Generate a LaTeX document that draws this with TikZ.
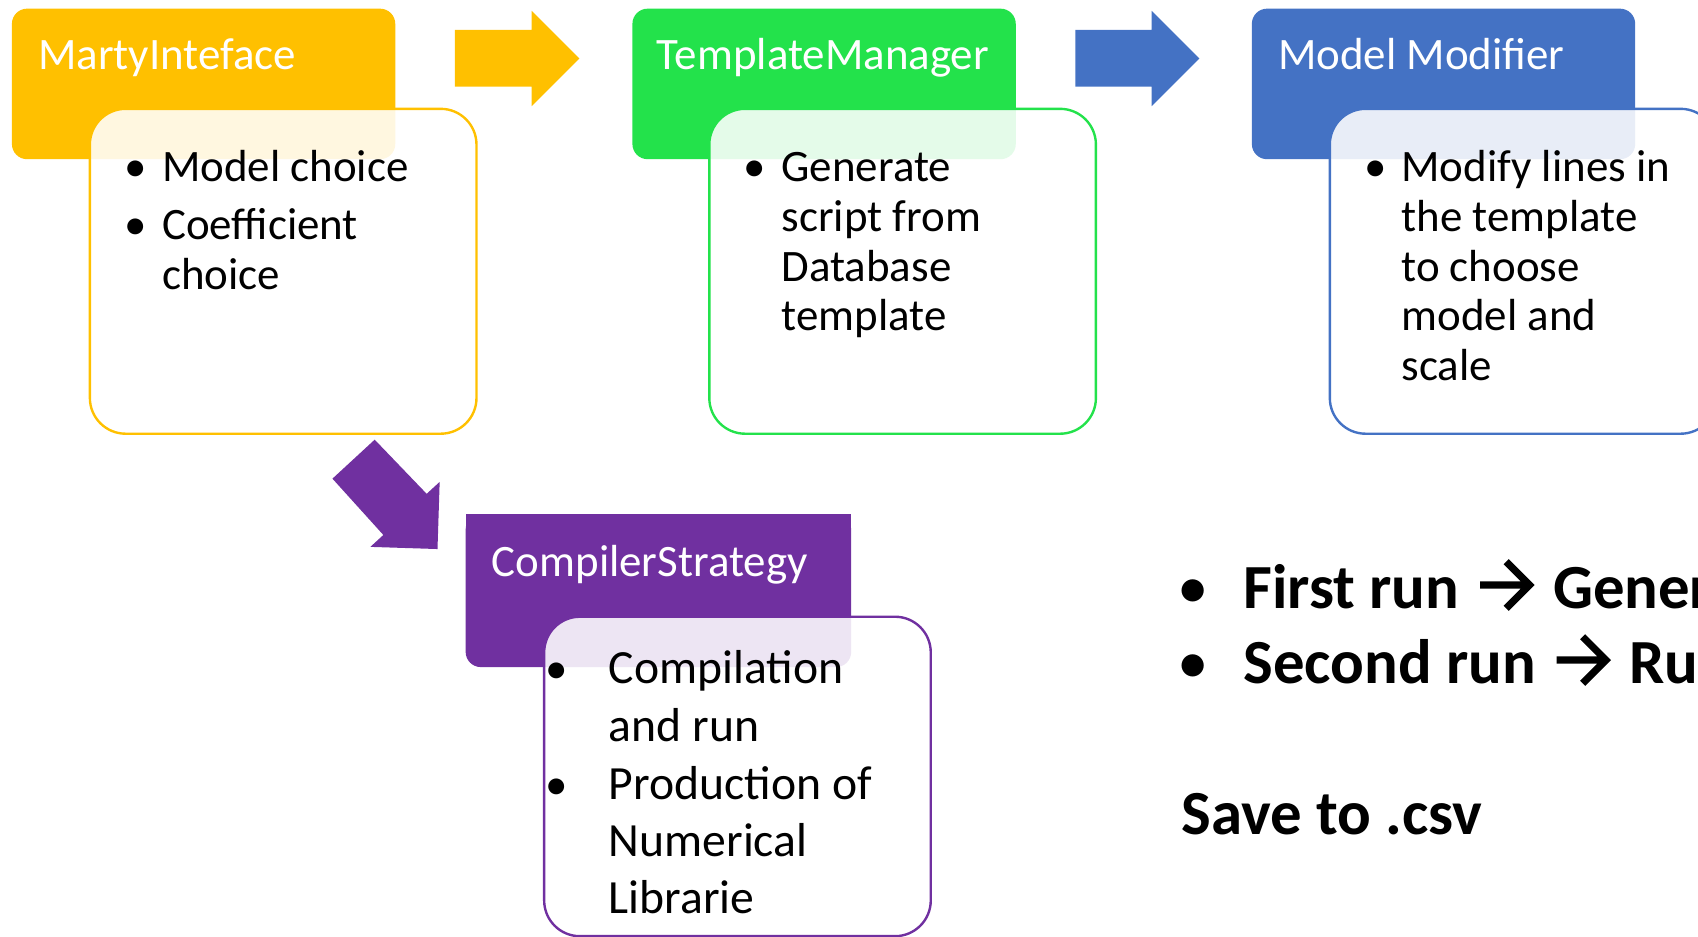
\documentclass[tikz,border=0pt]{standalone}
\usepackage{fontspec}
\setmainfont{Carlito}
\definecolor{ycol}{HTML}{FFC000}
\definecolor{gcol}{HTML}{23E24B}
\definecolor{bcol}{HTML}{4472C4}
\definecolor{pcol}{HTML}{7030A0}
% chevron-headed arrow used inside the run notes
\newcommand\runarrow{\tikz[x=1pt,y=1pt,baseline=0pt]
  \draw[line width=6.6pt, line cap=butt, line join=miter]
  (0,21.5) -- (46,21.5) (24,43) -- (45.5,21.5) -- (24,0);}
\begin{document}
\begin{tikzpicture}[x=1pt,y=-1pt,
  head/.style={rounded corners=14pt, inner sep=0pt, outer sep=0pt, anchor=north west},
  card/.style={draw=#1, line width=2.2pt, fill=white, fill opacity=0.88,
    rounded corners=33pt, inner sep=0pt, outer sep=0pt, anchor=north west,
    minimum width=357pt, minimum height=300pt},
  headtxt/.style={text=white, anchor=base west, inner sep=0pt, font=\fontsize{41.5}{46}\selectfont},
  body/.style={anchor=base west, inner sep=0pt, font=\fontsize{41.5}{46}\selectfont},
  pbody/.style={anchor=base west, inner sep=0pt, font=\fontsize{44}{53}\selectfont},
  dot/.style={anchor=base, inner sep=0pt, font=\fontsize{41.5}{46}\selectfont},
  big/.style={anchor=base west, inner sep=0pt, font=\fontsize{58}{70}\selectfont\bfseries},
  bigdot/.style={anchor=base, inner sep=0pt, font=\fontsize{58}{70}\selectfont}]
\useasboundingbox (0,0) rectangle (1568,865);
\clip (0,0) rectangle (1568,865);

% ---- MartyInteface ----
\node[head, fill=ycol, minimum width=354pt, minimum height=139pt] (yhead) at (11,8) {};
\node[headtxt] (ytitle) at (35,64.6) {MartyInteface};
\node[card=ycol] (ycard) at (83,100.5) {};
\node[dot] (yd1) at (125.6,167.7) {•};
\node[body] (y1) at (149.5,167.7) {Model choice};
\node[dot] (yd2) at (125.6,221.6) {•};
\node[body] (y2) at (149.5,221.6) {Coefficient};
\node[body] (y3) at (149.5,267) {choice};

% ---- TemplateManager ----
\node[head, fill=gcol, minimum width=354pt, minimum height=139pt] (ghead) at (584,8) {};
\node[headtxt] (gtitle) at (606.4,64.6) {TemplateManager};
\node[card=gcol] (gcard) at (655,100.5) {};
\node[dot] (gd1) at (697,167.7) {•};
\node[body] (g1) at (721.5,167.7) {Generate};
\node[body] (g2) at (721.5,213.5) {script from};
\node[body] (g3) at (721.5,259.5) {Database};
\node[body] (g4) at (721.5,305) {template};

% ---- Model Modifier ----
\node[head, fill=bcol, minimum width=354pt, minimum height=139pt] (bhead) at (1156,8) {};
\node[headtxt] (btitle) at (1180,64.6) {Model Modifier};
\node[card=bcol] (bcard) at (1228,100.5) {};
\node[dot] (bd1) at (1270,167.7) {•};
\node[body] (b1) at (1294,167.7) {Modify lines in};
\node[body] (b2) at (1294,213.5) {the template};
\node[body] (b3) at (1294,259.5) {to choose};
\node[body] (b4) at (1294,305) {model and};
\node[body] (b5) at (1294,351) {scale};

% ---- CompilerStrategy ----
\node[head, fill=pcol, minimum width=356pt, minimum height=141pt] (phead) at (430,475) {};
\fill[pcol] (phead.north west) rectangle ([yshift=-95pt]phead.north east);
\node[headtxt] (ptitle) at (454,532.5) {CompilerStrategy};
\node[card=pcol, minimum height=295pt] (pcard) at (502.5,569.5) {};
\node[dot] (pd1) at (513.8,631) {•};
\node[pbody] (p1) at (562,631) {Compilation};
\node[pbody] (p2) at (562,684.5) {and run};
\node[dot] (pd2) at (513.8,738) {•};
\node[pbody] (p3) at (562,738) {Production of};
\node[pbody] (p4) at (562,791) {Numerical};
\node[pbody] (p5) at (562,843.5) {Librarie};

% ---- block arrows between the stages ----
\fill[ycol] (420,27.5) -- (491,27.5) -- (491,10) -- (535,54) -- (491,98) -- (491,80) -- (420,80) -- cycle;
\fill[bcol] (993,27.5) -- (1063.5,27.5) -- (1063.5,10) -- (1107.5,54) -- (1063.5,98) -- (1063.5,80) -- (993,80) -- cycle;
\fill[pcol] (346,406) -- (394,456) -- (406,445) -- (404,507) -- (342,505) -- (354,494) -- (307,442) -- cycle;

% ---- run notes ----
\node[bigdot] (rd1) at (1102,561.7) {•};
\node[big] (r1) at (1148,561.7) {First run\hspace{16pt}\runarrow\hspace{18pt}Generate};
\node[bigdot] (rd2) at (1102,631) {•};
\node[big] (r2) at (1148,631) {Second run\hspace{16pt}\runarrow\hspace{18pt}Run};
\node[big] (r3) at (1091,771) {Save to .csv};
\end{tikzpicture}
\end{document}
